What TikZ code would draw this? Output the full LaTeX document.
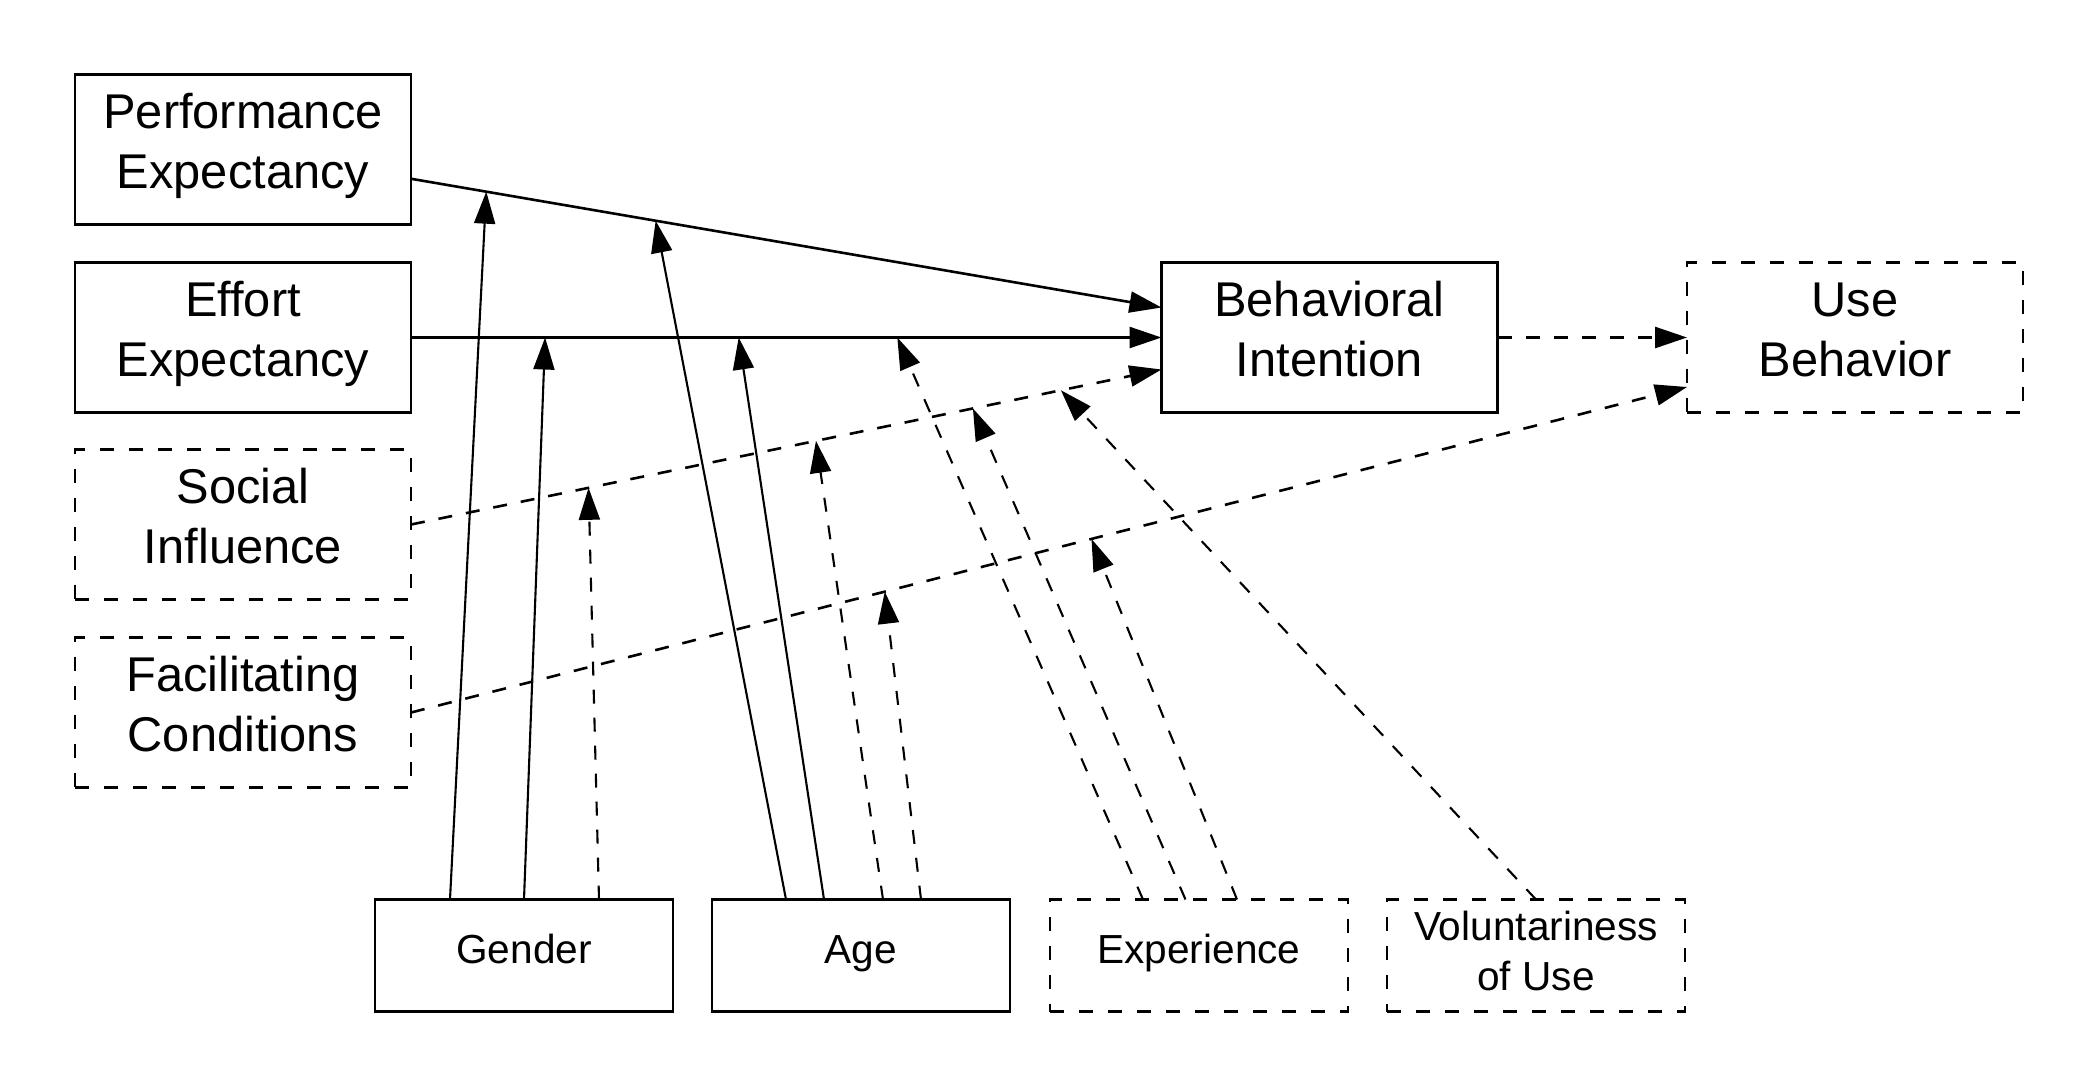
\documentclass[tikz,border=0pt]{standalone}
\usepackage{fontspec}
\setmainfont{Liberation Sans}
\usetikzlibrary{arrows.meta,calc}
% two lines of text with rows of uniform height; #3 = depth of the last row
\newcommand{\mytwolines}[3]{\begin{tabular}{@{}c@{}}#1\\#2\rule[-#3]{0pt}{#3}\end{tabular}}
\begin{document}
\begin{tikzpicture}[x=0.5pt,y=-0.5pt,
  bigbox/.style={draw,line width=1.35pt,minimum width=168pt,minimum height=75pt,inner sep=0pt,outer sep=0pt,font=\fontsize{24.4}{30}\selectfont},
  smallbox/.style={draw,line width=1.35pt,minimum width=149pt,minimum height=56pt,inner sep=0pt,outer sep=0pt,font=\fontsize{20.3}{25}\selectfont},
  oneline/.style={text height=17.5pt,text depth=9.3pt},
  dashedbox/.style={dash pattern=on 7pt off 7.5pt},
  dashedline/.style={dash pattern=on 7pt off 7pt},
  mainarrow/.style={line width=1.3pt,-{Triangle[length=16pt,width=10.5pt]}},
  modarrow/.style={line width=1.05pt,-{Triangle[length=16pt,width=10.5pt]}}]
\useasboundingbox (0,0) rectangle (2100,1088);
% construct boxes
\node[bigbox] (pe) at (243,149.75) {\mytwolines{Performance}{Expectancy}{11.8pt}};
\node[bigbox] (ee) at (243,337.5) {\mytwolines{Effort}{Expectancy}{11.8pt}};
\node[bigbox,dashedbox] (si) at (243,524.5) {\mytwolines{Social}{Influence}{11.8pt}};
\node[bigbox,dashedbox] (fc) at (243,712.5) {\mytwolines{Facilitating}{Conditions}{11.8pt}};
\node[bigbox] (bi) at (1329.5,337.5) {\mytwolines{Behavioral}{Intention}{11.8pt}};
\node[bigbox,dashedbox] (ub) at (1855,337.5) {\mytwolines{Use}{Behavior}{11.8pt}};
% moderator boxes
\node[smallbox,oneline] (gender) at (524,955.5) {Gender};
\node[smallbox,oneline] (age) at (861,955.5) {Age};
\node[smallbox,oneline,dashedbox] (exp) at (1199,955.5) {Experience};
\node[smallbox,dashedbox] (vol) at (1536,955.5) {\mytwolines{Voluntariness}{of Use}{7.5pt}};
% connector end points
\coordinate (peS) at ($(pe.east)+(0,29)$);
\coordinate (biA) at ($(bi.west)+(0,-30)$);
\coordinate (biC) at ($(bi.west)+(0,32)$);
\coordinate (ubA) at ($(ub.west)+(0,49.5)$);
% main paths
\draw[mainarrow] (peS) -- (biA);
\draw[mainarrow] (ee.east) -- (bi.west);
\draw[mainarrow,dashedline] (si.east) -- (biC);
\draw[mainarrow,dashedline] (fc.east) -- (ubA);
\draw[mainarrow,dashedline] (bi.east) -- (ub.west);
% gender
\draw[modarrow] ($(gender.north west)+(75,0)$) -- ($(peS)!0.1003!(biA)$);
\draw[modarrow] (gender.north) -- ($(ee.east)!0.1787!(bi.west)$);
\draw[modarrow,dashedline] ($(gender.north west)+(224,0)$) -- ($(si.east)!0.2366!(biC)$);
% age
\draw[modarrow] ($(age.north west)+(74,0)$) -- ($(peS)!0.326!(biA)$);
\draw[modarrow] ($(age.north west)+(112,0)$) -- ($(ee.east)!0.4366!(bi.west)$);
\draw[modarrow,dashedline] ($(age.north west)+(171,0)$) -- ($(si.east)!0.5396!(biC)$);
\draw[modarrow,dashedline] ($(age.north west)+(209,0)$) -- ($(fc.east)!0.3713!(ubA)$);
% experience
\draw[modarrow,dashedline] ($(exp.north west)+(93,0)$) -- ($(ee.east)!0.648!(bi.west)$);
\draw[modarrow,dashedline] ($(exp.north west)+(135.5,0)$) -- ($(si.east)!0.7487!(biC)$);
\draw[modarrow,dashedline] ($(exp.north west)+(187,0)$) -- ($(fc.east)!0.5333!(ubA)$);
% voluntariness
\draw[modarrow,dashedline] (vol.north) -- ($(si.east)!0.866!(biC)$);
\end{tikzpicture}
\end{document}
